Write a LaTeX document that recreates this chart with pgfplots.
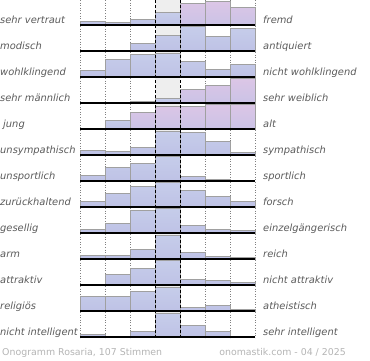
\documentclass[border=0pt]{standalone}
\usepackage{pgfplots}
\pgfplotsset{compat=1.18}
\usepackage{fontspec}
\setmainfont{DejaVu Sans}
\definecolor{labc}{HTML}{5A5A5A}
\definecolor{footc}{HTML}{B4B4B4}
\definecolor{btop}{HTML}{C6CDEA}
\definecolor{bmid}{HTML}{BFC3E6}
\definecolor{bbot}{HTML}{A99BCB}
\definecolor{ptop}{HTML}{DCC6E6}
\definecolor{pmid}{HTML}{CCC3E6}
\definecolor{edgec}{HTML}{A0A0A0}
\definecolor{midc}{HTML}{EEEEEE}
\pgfdeclareverticalshading{bluebar}{100bp}{color(0bp)=(bbot); color(25bp)=(bbot); color(29bp)=(bmid); color(75bp)=(btop); color(100bp)=(btop)}
\pgfdeclareverticalshading{pinkbar}{100bp}{color(0bp)=(bbot); color(25bp)=(bbot); color(29bp)=(pmid); color(75bp)=(ptop); color(100bp)=(ptop)}
\pgfplotsset{
  bb/.style={ybar interval, draw=edgec, line width=0.5pt, shade, shading=bluebar},
  pb/.style={ybar interval, draw=edgec, line width=0.5pt, shade, shading=pinkbar},
}
\newcommand{\rowaxis}[4]{%
  \fill[midc] (155pt,-#1pt+25pt) rectangle (180pt,-#1pt);
  \begin{axis}[at={(80pt,-#1pt)}, anchor=south west, scale only axis,
    width=175pt, height=26pt, xmin=0, xmax=7, ymin=0, ymax=26,
    hide axis, clip=false]
  #2
  \draw[black, line width=1.5pt] (axis cs:0,0) -- (axis cs:7,0);
  \end{axis}
  \node[anchor=base west, inner sep=0pt, text=labc, font=\fontsize{9.9}{12}\selectfont\itshape] at (0pt,-#1pt+1.5pt) {#3};
  \node[anchor=base west, inner sep=0pt, text=labc, font=\fontsize{9.9}{12}\selectfont\itshape] at (263pt,-#1pt+1.5pt) {#4};
}
\begin{document}
\begin{tikzpicture}
\useasboundingbox (0pt,0pt) rectangle (370pt,-360pt);
% dotted grid
\foreach \xx in {80,105,130,205,230,255}{
  \draw[gray, dotted, line width=0.6pt] (\xx pt,0pt) -- (\xx pt,-338pt);
}
\rowaxis{25}{\addplot[bb] coordinates {(0,3.7)(1,2.3)(2,5.7)(3,12.7)(4,0)};
 \addplot[pb] coordinates {(4,21.7)(5,24)(6,17.7)(7,0)};}{sehr vertraut}{fremd}
\rowaxis{51}{\addplot[bb] coordinates {(0,0)(1,0)(2,7.7)(3,16)(4,24.5)(5,14.3)(6,22.7)(7,0)};}{modisch}{antiquiert}
\rowaxis{77}{\addplot[bb] coordinates {(0,6.3)(1,17.3)(2,23)(3,24)(4,15.3)(5,8)(6,13)(7,0)};}{wohlklingend}{nicht wohlklingend}
\rowaxis{103}{\addplot[bb] coordinates {(0,0)(1,0)(2,1.5)(3,4.5)(4,0)};
 \addplot[pb] coordinates {(4,13.5)(5,18)(6,25)(7,0)};}{sehr männlich}{sehr weiblich}
\rowaxis{129}{\addplot[bb] coordinates {(0,0)(1,9)(2,0)};
 \addplot[pb] coordinates {(2,16.5)(3,23)(4,23)(5,25)(6,25)(7,0)};}{\hspace{3pt}jung}{alt}
\rowaxis{155}{\addplot[bb] coordinates {(0,4.7)(1,3.3)(2,7.7)(3,23.5)(4,22.7)(5,13.3)(6,2.3)(7,0)};}{unsympathisch}{sympathisch}
\rowaxis{181}{\addplot[bb] coordinates {(0,5.3)(1,13.3)(2,17.7)(3,25)(4,4.3)(5,1.7)(6,0)(7,0)};}{unsportlich}{sportlich}
\rowaxis{207}{\addplot[bb] coordinates {(0,5.3)(1,13.7)(2,21)(3,25)(4,17)(5,10.3)(6,6)(7,0)};}{zurückhaltend}{forsch}
\rowaxis{233}{\addplot[bb] coordinates {(0,3.5)(1,9.5)(2,23)(3,25)(4,7.5)(5,3.3)(6,2.5)(7,0)};}{gesellig}{einzelgängerisch}
\rowaxis{259}{\addplot[bb] coordinates {(0,4)(1,4)(2,9.5)(3,24)(4,6.5)(5,2.8)(6,1.5)(7,0)};}{arm}{reich}
\rowaxis{285}{\addplot[bb] coordinates {(0,0)(1,10.7)(2,16.7)(3,24.3)(4,6)(5,4.7)(6,2.7)(7,0)};}{attraktiv}{nicht attraktiv}
\rowaxis{311}{\addplot[bb] coordinates {(0,14.3)(1,14.3)(2,19.3)(3,24)(4,3.3)(5,5.3)(6,1.3)(7,0)};}{religiös}{atheistisch}
\rowaxis{337}{\addplot[bb] coordinates {(0,2.7)(1,1)(2,6)(3,23.5)(4,12)(5,5.3)(6,0)(7,0)};}{nicht intelligent}{sehr intelligent}
% dashed middle lines
\foreach \xx in {155,180}{
  \draw[black, line width=0.9pt, dash pattern=on 3pt off 2pt] (\xx pt,0pt) -- (\xx pt,-338pt);
}
\node[anchor=base west, inner sep=0pt, text=footc, font=\fontsize{9.4}{11}\selectfont] at (2pt,-355.5pt) {Onogramm Rosaria, 107 Stimmen};
\node[anchor=base east, inner sep=0pt, text=footc, font=\fontsize{9.4}{11}\selectfont] at (346pt,-355.5pt) {onomastik.com - 04 / 2025};
\end{tikzpicture}
\end{document}
